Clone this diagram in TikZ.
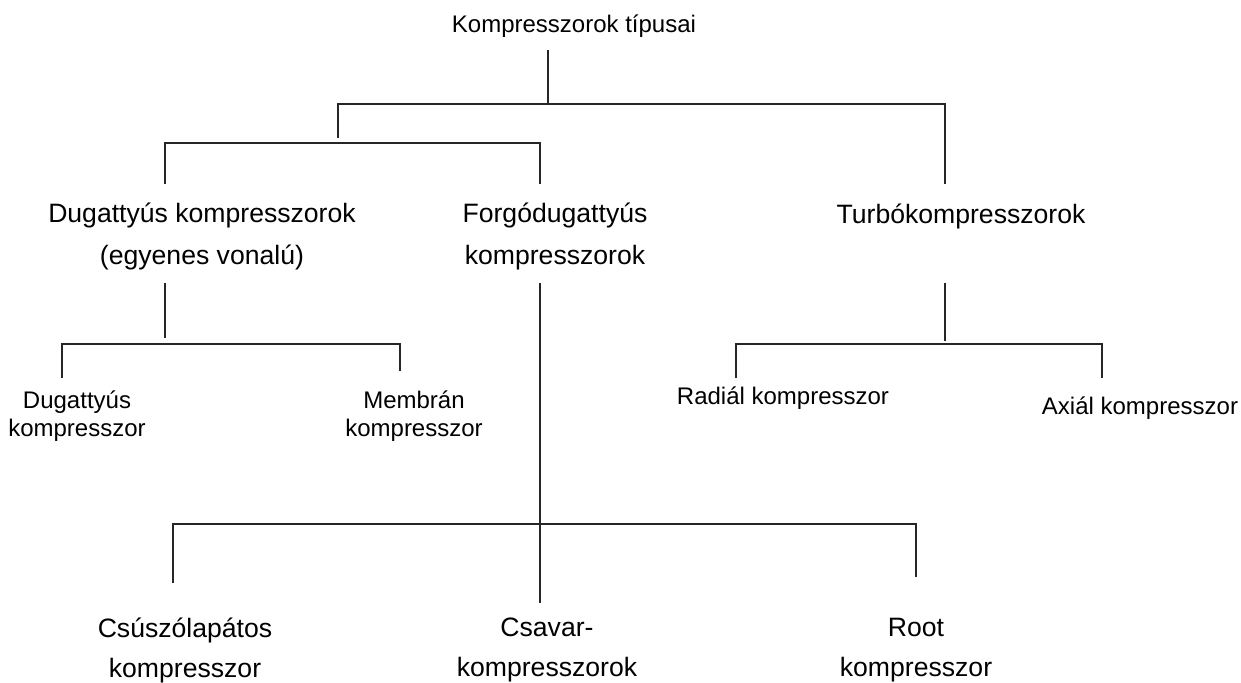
\documentclass[tikz,border=0pt]{standalone}
\usepackage{fontspec}
\setmainfont{Liberation Sans}
\tikzset{
  lblbig/.style={font=\fontsize{13.3}{21}\selectfont, align=center, inner sep=0pt},
  lblbot/.style={font=\fontsize{13.3}{20}\selectfont, align=center, inner sep=0pt},
  lblsmall/.style={font=\fontsize{12}{14}\selectfont, align=center, inner sep=0pt},
  link/.style={draw=black!85, line width=0.7pt},
}
\begin{document}
\begin{tikzpicture}[x=0.5pt,y=-0.5pt]
\useasboundingbox (0,0) rectangle (1241,682);
% labels
\node[lblsmall] (typ) at (574,26) {Kompresszorok típusai};
\node[lblbig] (dug) at (202,236) {Dugattyús kompresszorok\\(egyenes vonalú)};
\node[lblbig] (forgo) at (555,236) {Forgódugattyús\\kompresszorok};
\node[lblbig] (turbo) at (961,216) {Turbókompresszorok};
\node[lblsmall] (dug1) at (77,416) {Dugattyús\\kompresszor};
\node[lblsmall] (memb) at (414,416) {Membrán\\kompresszor};
\node[lblsmall] (rad) at (783,398) {Radiál kompresszor};
\node[lblsmall] (axi) at (1140,408) {Axiál kompresszor};
\node[lblbot] (csusz) at (185,650) {Csúszólapátos\\kompresszor};
\node[lblbot] (csavar) at (547,650) {Csavar-\\kompresszorok};
\node[lblbot] (roots) at (916,650) {Root\\kompresszor};
% stub ends and junctions
\coordinate (typ-b) at (548,50);
\coordinate (j0) at (548,104);
\coordinate (k1) at (338,138);
\coordinate (k1j) at (338,143);
\coordinate (dug-t) at (165,184);
\coordinate (forgo-t) at (540,184);
\coordinate (turbo-t) at (945,184);
\coordinate (dug-b) at (165,283);
\coordinate (k2) at (165,338);
\coordinate (k2j) at (165,344);
\coordinate (dug1-t) at (62,378);
\coordinate (memb-t) at (400,371);
\coordinate (forgo-b) at (540,283);
\coordinate (k3) at (540,603);
\coordinate (k3j) at (540,524);
\coordinate (csusz-t) at (173,583);
\coordinate (roots-t) at (916,577);
\coordinate (turbo-b) at (945,283);
\coordinate (k4) at (945,341);
\coordinate (k4j) at (945,344);
\coordinate (rad-t) at (736,378);
\coordinate (axi-t) at (1102,378);
% connectors
\draw[link] (typ-b) -- (j0);
\draw[link] (k1) |- (j0) -| (turbo-t);
\draw[link] (dug-t) |- (k1j) -| (forgo-t);
\draw[link] (dug-b) -- (k2);
\draw[link] (dug1-t) |- (k2j) -| (memb-t);
\draw[link] (forgo-b) -- (k3);
\draw[link] (csusz-t) |- (k3j) -| (roots-t);
\draw[link] (turbo-b) -- (k4);
\draw[link] (rad-t) |- (k4j) -| (axi-t);
\end{tikzpicture}
\end{document}
